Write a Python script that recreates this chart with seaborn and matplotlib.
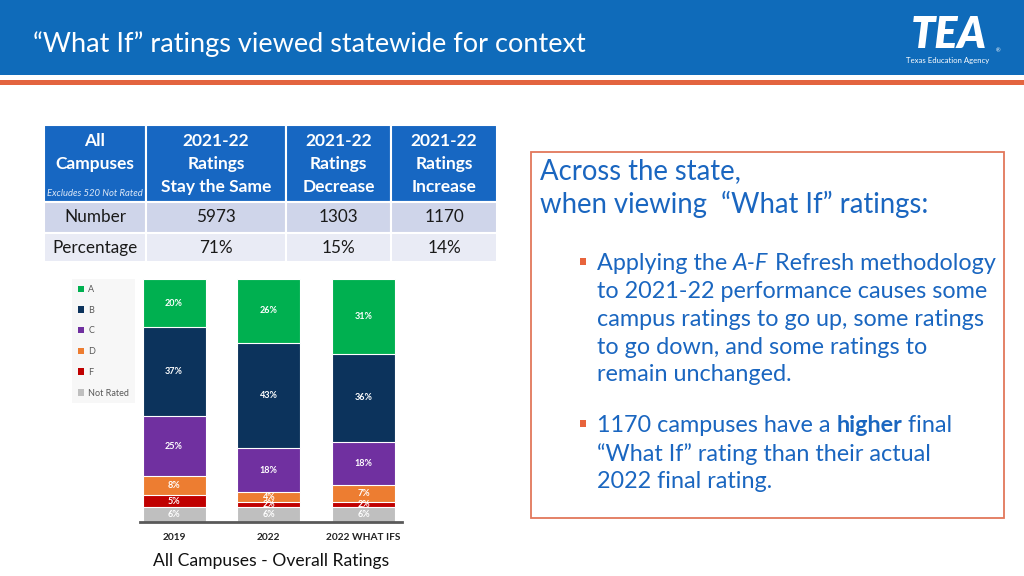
import matplotlib
matplotlib.use("Agg")
import matplotlib.pyplot as plt
from matplotlib.patches import Rectangle, Patch
import seaborn as sns
import pandas as pd
import numpy as np

# ---------------- data ----------------
years = ["2019", "2022", "2022 WHAT IFS"]
ratings = ["A", "B", "C", "D", "F", "Not Rated"]
pct_A = [20, 26, 31]
pct_B = [37, 43, 36]
pct_C = [25, 18, 18]
pct_D = [8, 4, 7]
pct_F = [5, 2, 2]
pct_NR = [6, 6, 6]
rating_colors = ["#00B050", "#0C335C", "#7030A0", "#ED7D31", "#C00000", "#BFBFBF"]

table_cols = ["All\nCampuses", "2021-22\nRatings\nStay the Same", "2021-22\nRatings\nDecrease", "2021-22\nRatings\nIncrease"]
table_rows = ["Number", "Percentage"]
table_number = ["5973", "1303", "1170"]
table_percent = ["71%", "15%", "14%"]

title = "\u201cWhat If\u201d ratings viewed statewide for context"

# ---------------- setup ----------------
sns.set_theme(style="white")
plt.rcParams["font.family"] = ["Lato", "DejaVu Sans"]

W, H = 1024, 576
fig = plt.figure(figsize=(W / 100, H / 100), dpi=100)
bg = fig.add_axes([0, 0, 1, 1])
bg.set_xlim(0, W)
bg.set_ylim(H, 0)
bg.axis("off")

# header
bg.add_patch(Rectangle((0, 0), W, 75, color="#0F6BBA", lw=0))
bg.add_patch(Rectangle((0, 79.5), W, 5, color="#E3643F", lw=0))
bg.text(33, 44, title, color="white", fontsize=19.5, va="center", ha="left")
bg.text(949, 35, "TEA", color="white", fontsize=31, fontweight="heavy", style="italic", va="center", ha="center")
bg.text(948, 61, "Texas Education Agency", color="white", fontsize=5.6, va="center", ha="center")
bg.text(998, 51, "\u00ae", color="white", fontsize=4, va="center", ha="center")

# ---------------- table ----------------
col_x = [44, 146, 286, 391, 497]
row_y = [125, 202, 233, 262]
row_colors = ["#1767C2", "#CFD5EA", "#E9EBF5"]
for r in range(3):
    for c in range(4):
        bg.add_patch(Rectangle((col_x[c], row_y[r]), col_x[c + 1] - col_x[c], row_y[r + 1] - row_y[r],
                               facecolor=row_colors[r], edgecolor="white", lw=1.5))
for c in range(4):
    cx = (col_x[c] + col_x[c + 1]) / 2
    yc = 152.5 if c == 0 else 164
    bg.text(cx, yc, table_cols[c], color="white", fontsize=12.5, fontweight="bold",
            ha="center", va="center", linespacing=1.55)
bg.text(95, 193.5, "Excludes 520 Not Rated", color="#DCE8F7", fontsize=6.8, style="italic",
        ha="center", va="center")
bg.text(95, 217.5, table_rows[0], color="#1A1A1A", fontsize=12.3, ha="center", va="center")
bg.text(95, 248, table_rows[1], color="#1A1A1A", fontsize=12.3, ha="center", va="center")
for c in range(3):
    cx = (col_x[c + 1] + col_x[c + 2]) / 2
    bg.text(cx, 217.5, table_number[c], color="#1A1A1A", fontsize=12.3, ha="center", va="center")
    bg.text(cx, 248, table_percent[c], color="#1A1A1A", fontsize=12.3, ha="center", va="center")

# ---------------- stacked bar chart ----------------
vals = np.array([pct_A, pct_B, pct_C, pct_D, pct_F, pct_NR], dtype=float)
shares = vals / vals.sum(axis=0) * 100  # 100% stacked
order_bottom_up = list(range(len(ratings)))[::-1]
tops = np.zeros_like(shares)
running = np.zeros(len(years))
for i in order_bottom_up:
    running = running + shares[i]
    tops[i] = running

ax_l, ax_r, ax_b, ax_t = 140, 402, 521.7, 279
ax = fig.add_axes([ax_l / W, (H - ax_b) / H, (ax_r - ax_l) / W, (ax_b - ax_t) / H])
for i in range(len(ratings)):  # draw tallest first (A) down to Not Rated
    df = pd.DataFrame({"year": years, "top": tops[i]})
    sns.barplot(data=df, x="year", y="top", color=rating_colors[i], saturation=1,
                width=0.665, edgecolor="white", linewidth=0.8, ax=ax, order=years)
for i in range(len(ratings)):
    for j in range(len(years)):
        yc = tops[i][j] - shares[i][j] / 2
        ax.text(j, yc, f"{int(vals[i][j])}%", color="white", fontsize=6.5, fontweight="bold",
                ha="center", va="center")
ax.set_xlim(-0.359, 2.406)
ax.set_ylim(0, 100)
ax.set_xlabel("")
ax.set_ylabel("")
ax.set_yticks([])
ax.set_xticks(range(len(years)))
ax.set_xticklabels(years, fontsize=7.3, fontweight="bold", color="#222222")
ax.tick_params(axis="x", length=0, pad=8)
for s in ["top", "left", "right"]:
    ax.spines[s].set_visible(False)
ax.spines["bottom"].set_color("#595959")
ax.spines["bottom"].set_linewidth(2)
ax.patch.set_alpha(0)

handles = [Patch(facecolor=c, edgecolor="none") for c in rating_colors]
leg = ax.legend(handles, ratings, loc="upper left", bbox_to_anchor=(72 / W, 1 - 279 / H),
                bbox_transform=fig.transFigure, fontsize=6.5, labelcolor="#595959",
                frameon=True, facecolor="#F6F6F6", edgecolor="none", fancybox=False,
                handlelength=0.7, handleheight=0.7, handletextpad=0.45, labelspacing=1.3,
                borderpad=0.65, borderaxespad=0)
leg.get_frame().set_linewidth(0)

bg.text(271, 561, "All Campuses - Overall Ratings", color="#111111", fontsize=12.6, ha="center", va="center")

# ---------------- text box ----------------
blue = "#1A66C0"
bg.add_patch(Rectangle((531, 152), 473, 366, facecolor="white", edgecolor="#E2775A", lw=1.3))
bg.text(540, 171, "Across the state,", color=blue, fontsize=19.8, ha="left", va="center")
bg.text(540, 204, "when viewing  \u201cWhat If\u201d ratings:", color=blue, fontsize=19.8, ha="left", va="center")


def rich_line(x, y, pieces, fs=16.8):
    prev = None
    for txt, style in pieces:
        kw = dict(color=blue, fontsize=fs)
        if style == "i":
            kw["style"] = "italic"
        elif style == "b":
            kw["fontweight"] = "bold"
        if prev is None:
            prev = bg.text(x, y, txt, ha="left", va="center", **kw)
        else:
            prev = bg.annotate(txt, xy=(1, 0.5), xycoords=prev, ha="left", va="center", **kw)


bullet1 = [
    [("Applying the ", "n"), ("A-F", "i"), (" Refresh methodology", "n")],
    [("to 2021-22 performance causes some", "n")],
    [("campus ratings to go up, some ratings", "n")],
    [("to go down, and some ratings to", "n")],
    [("remain unchanged.", "n")],
]
bullet2 = [
    [("1170 campuses have a ", "n"), ("higher", "b"), (" final", "n")],
    [("\u201cWhat If\u201d rating than their actual", "n")],
    [("2022 final rating.", "n")],
]
for k, line in enumerate(bullet1):
    rich_line(597, 264 + k * 27.7, line)
for k, line in enumerate(bullet2):
    rich_line(597, 426 + k * 27.7, line)
for by in [261.5, 423.5]:
    bg.add_patch(Rectangle((579.5, by - 3.2), 6.4, 6.4, color="#E8643C", lw=0))

fig.savefig("out.png", dpi=100)
